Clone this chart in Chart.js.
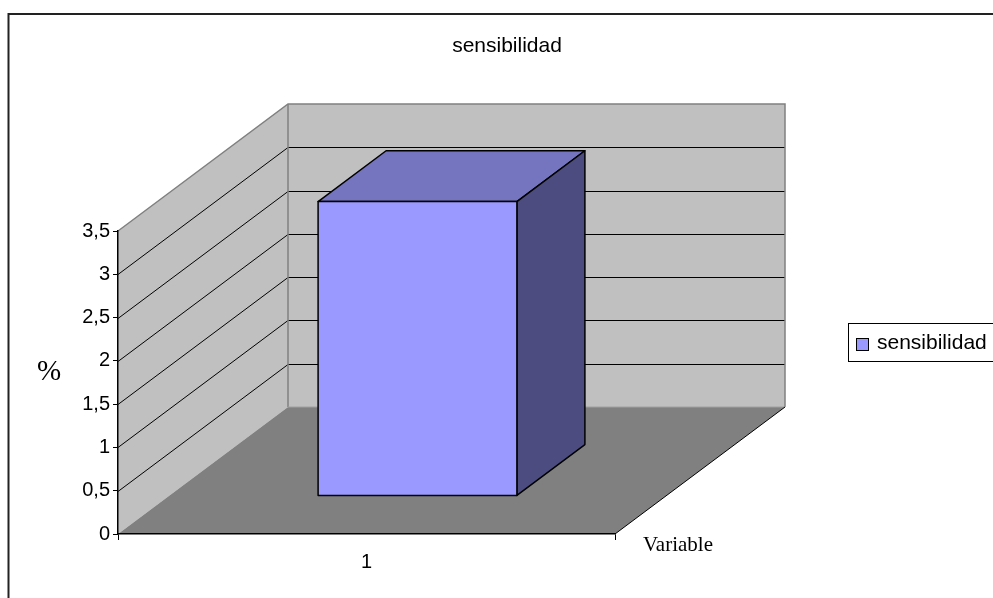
<!DOCTYPE html>
<html>
<head>
<meta charset="utf-8">
<script src="https://cdn.jsdelivr.net/npm/chart.js@4"></script>
<style>
  html, body { margin: 0; padding: 0; background: #fff; }
</style>
</head>
<body>
<canvas id="chart" width="993" height="598"></canvas>
<script>
const categories = ['1'];
const seriesLabel = 'sensibilidad';
const sensibilidad = [3.4];
const yTicks = [0, 0.5, 1, 1.5, 2, 2.5, 3, 3.5];
const chartTitle = 'sensibilidad';
const xTitle = 'Variable';
const yTitle = '%';

// colours of the box faces
const FRONT = '#9999ff', TOP = '#7474bf', SIDE = '#4c4c80';
const WALL = '#c0c0c0', FLOOR = '#808080';
// depth of the plot box, and where the bar sits inside it
const D = { x: 170, y: -127 };
const BAR_FRONT = 0.3, BAR_BACK = 0.7;

const SANS = '"Liberation Sans", Arial, sans-serif';
const SERIF = '"Liberation Serif", "Times New Roman", serif';

function poly(ctx, pts, fill, stroke, lw) {
  ctx.beginPath();
  pts.forEach(([x, y], i) => i ? ctx.lineTo(x, y) : ctx.moveTo(x, y));
  ctx.closePath();
  if (fill) { ctx.fillStyle = fill; ctx.fill(); }
  if (stroke) { ctx.strokeStyle = stroke; ctx.lineWidth = lw || 1; ctx.stroke(); }
}
function line(ctx, pts) {
  ctx.beginPath();
  pts.forEach(([x, y], i) => i ? ctx.lineTo(x, y) : ctx.moveTo(x, y));
  ctx.stroke();
}

const box3d = {
  id: 'box3d',
  beforeDraw(chart) {
    const { ctx, chartArea: a, scales: { y } } = chart;
    const L = a.left, R = a.right, T = a.top, B = a.bottom;
    ctx.save();
    // back wall, side wall, floor
    poly(ctx, [[L + D.x, T + D.y], [R + D.x, T + D.y], [R + D.x, B + D.y], [L + D.x, B + D.y]], WALL);
    poly(ctx, [[L, T], [L + D.x, T + D.y], [L + D.x, B + D.y], [L, B]], WALL);
    poly(ctx, [[L, B], [L + D.x, B + D.y], [R + D.x, B + D.y], [R, B]], FLOOR);

    // value gridlines running along both walls
    ctx.strokeStyle = '#000';
    ctx.lineWidth = 1;
    yTicks.forEach(v => {
      if (v === y.min || v === y.max) return;
      const py = Math.round(y.getPixelForValue(v)) + 0.5;
      line(ctx, [[L, py], [L + D.x, py + D.y], [R + D.x, py + D.y]]);
    });

    // wall edges
    ctx.strokeStyle = '#808080';
    ctx.lineWidth = 1.5;
    line(ctx, [[L, T], [L + D.x, T + D.y], [R + D.x, T + D.y], [R + D.x, B + D.y]]);
    line(ctx, [[L + D.x, T + D.y], [L + D.x, B + D.y]]);
    ctx.strokeStyle = '#a0a0a0';
    ctx.lineWidth = 1;
    line(ctx, [[L + D.x, B + D.y], [R + D.x, B + D.y]]);
    ctx.strokeStyle = '#000';
    line(ctx, [[R, B], [R + D.x, B + D.y]]);
    ctx.restore();
  },
  beforeDatasetsDraw(chart) {
    const { ctx } = chart;
    ctx.save();
    ctx.lineJoin = 'round';
    chart.getDatasetMeta(0).data.forEach(bar => {
      const l = bar.x - bar.width / 2, r = bar.x + bar.width / 2;
      const t = bar.y, b = bar.base;
      const fx = D.x * BAR_FRONT, fy = D.y * BAR_FRONT;
      const bx = D.x * BAR_BACK, by = D.y * BAR_BACK;
      // top
      poly(ctx, [[l + fx, t + fy], [l + bx, t + by], [r + bx, t + by], [r + fx, t + fy]], TOP, '#000', 1.5);
      // right side
      poly(ctx, [[r + fx, t + fy], [r + bx, t + by], [r + bx, b + by], [r + fx, b + fy]], SIDE, '#000', 1.5);
      // front
      poly(ctx, [[l + fx, t + fy], [r + fx, t + fy], [r + fx, b + fy], [l + fx, b + fy]], FRONT, '#000', 1.5);
    });
    ctx.restore();
    return false;
  },
  afterDraw(chart) {
    const { ctx } = chart;
    ctx.save();
    ctx.fillStyle = '#000';
    ctx.textBaseline = 'alphabetic';

    ctx.font = '21px ' + SANS;
    ctx.textAlign = 'center';
    ctx.fillText(chartTitle, 507, 52);

    ctx.font = '21px ' + SERIF;
    ctx.textAlign = 'left';
    ctx.fillText(xTitle, 643, 551);

    ctx.font = '29px ' + SERIF;
    ctx.textAlign = 'center';
    ctx.fillText(yTitle, 49, 380);

    // legend
    ctx.strokeStyle = '#000';
    ctx.lineWidth = 1;
    ctx.fillStyle = '#fff';
    ctx.fillRect(848.5, 323.5, 160, 38);
    ctx.strokeRect(848.5, 323.5, 160, 38);
    ctx.fillStyle = FRONT;
    ctx.fillRect(856.5, 338.5, 12, 12);
    ctx.strokeRect(856.5, 338.5, 12, 12);
    ctx.fillStyle = '#000';
    ctx.font = '21px ' + SANS;
    ctx.textAlign = 'left';
    ctx.fillText(seriesLabel, 877, 349);

    // chart frame
    ctx.strokeStyle = '#222';
    ctx.lineWidth = 2;
    ctx.strokeRect(8.5, 14, 1010, 620);
    ctx.restore();
  }
};

new Chart(document.getElementById('chart'), {
  type: 'bar',
  data: {
    labels: categories,
    datasets: [{
      label: seriesLabel,
      data: sensibilidad,
      backgroundColor: FRONT,
      barPercentage: 0.4,
      categoryPercentage: 1.0
    }]
  },
  options: {
    responsive: false,
    animation: false,
    events: [],
    layout: { padding: { top: 231, right: 378, left: 0, bottom: 0 } },
    plugins: { legend: { display: false }, title: { display: false }, tooltip: { enabled: false } },
    scales: {
      x: {
        afterFit: s => { s.height = 64; },
        grid: { offset: true, drawOnChartArea: false, tickLength: 6, color: '#000' },
        border: { display: true, color: '#000', width: 1.5 },
        ticks: { color: '#000', font: { family: SANS, size: 20 }, padding: 10 }
      },
      y: {
        min: 0,
        max: 3.5,
        afterFit: s => { s.width = 118; },
        afterBuildTicks: s => { s.ticks = yTicks.map(v => ({ value: v })); },
        grid: { drawOnChartArea: false, tickLength: 5, color: '#000' },
        border: { display: true, color: '#000', width: 1.5 },
        ticks: {
          color: '#000',
          font: { family: SANS, size: 20 },
          padding: 3,
          callback: v => String(v).replace('.', ',')
        }
      }
    }
  },
  plugins: [box3d]
});
</script>
</body>
</html>
